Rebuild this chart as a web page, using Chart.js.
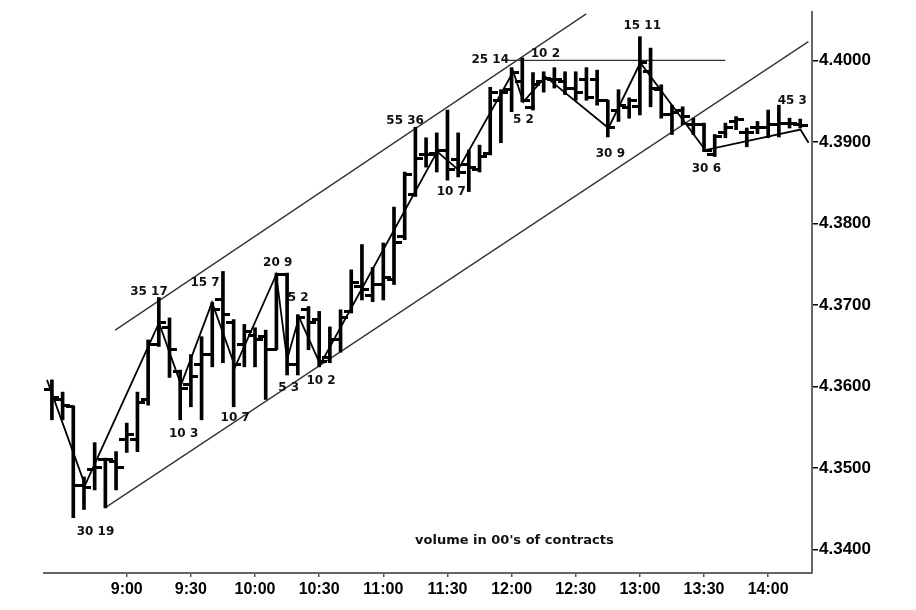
<!DOCTYPE html>
<html><head><meta charset="utf-8">
<script src="https://cdn.jsdelivr.net/npm/chart.js@4.4.1/dist/chart.umd.min.js"></script>
<style>html,body{margin:0;padding:0;background:#fff;}canvas{display:block;}</style>
</head><body>
<canvas id="c" width="916" height="610"></canvas>
<script>
// 5-minute bars
const barTimes = ["8:25","8:30","8:35","8:40","8:45","8:50","8:55",
  "9:00","9:05","9:10","9:15","9:20","9:25","9:30","9:35","9:40","9:45","9:50","9:55",
  "10:00","10:05","10:10","10:15","10:20","10:25","10:30","10:35","10:40","10:45","10:50","10:55",
  "11:00","11:05","11:10","11:15","11:20","11:25","11:30","11:35","11:40","11:45","11:50","11:55",
  "12:00","12:05","12:10","12:15","12:20","12:25","12:30","12:35","12:40","12:45","12:50","12:55",
  "13:00","13:05","13:10","13:15","13:20","13:25","13:30","13:35","13:40","13:45","13:50","13:55",
  "14:00","14:05","14:10","14:15"];
const opens = [4.3596,4.3584,4.3575,4.3479,4.3498,4.3510,4.3508,
  4.3535,4.3535,4.3584,4.3651,4.3672,4.3618,4.3602,4.3627,4.3639,4.3706,4.3679,4.3651,
  4.3663,4.3661,4.3645,4.3737,4.3627,4.3694,4.3682,4.3635,4.3657,4.3692,4.3722,4.3712,
  4.3725,4.3731,4.3784,4.3835,4.3884,4.3886,4.3890,4.3878,4.3872,4.3866,4.3886,4.3951,
  4.3964,4.3974,4.3942,4.3974,4.3976,4.3974,4.3966,4.3976,4.3976,4.3951,4.3939,4.3942,
  4.3943,4.3986,4.3964,4.3933,4.3939,4.3921,4.3921,4.3884,4.3911,4.3925,4.3911,4.3917,
  4.3917,4.3921,4.3923,4.3921];
const highs = [4.3608,4.3593,4.3576,4.3489,4.3531,4.3512,4.3520,
  4.3555,4.3593,4.3657,4.3709,4.3684,4.3620,4.3639,4.3661,4.3703,4.3741,4.3682,4.3676,
  4.3672,4.3669,4.3739,4.3739,4.3688,4.3698,4.3692,4.3673,4.3694,4.3743,4.3774,4.3746,
  4.3776,4.3820,4.3863,4.3918,4.3905,4.3911,4.3939,4.3911,4.3890,4.3896,4.3967,4.3964,
  4.3991,4.4003,4.3985,4.3986,4.3991,4.3986,4.3986,4.3991,4.3988,4.3951,4.3964,4.3954,
  4.4029,4.4015,4.3970,4.3945,4.3943,4.3929,4.3923,4.3909,4.3923,4.3931,4.3917,4.3925,
  4.3939,4.3945,4.3929,4.3928];
const lows = [4.3559,4.3559,4.3439,4.3449,4.3473,4.3451,4.3473,
  4.3519,4.3520,4.3577,4.3649,4.3611,4.3559,4.3575,4.3559,4.3624,4.3629,4.3575,4.3624,
  4.3624,4.3584,4.3645,4.3614,4.3614,4.3645,4.3624,4.3629,4.3642,4.3690,4.3706,4.3704,
  4.3706,4.3725,4.3780,4.3833,4.3869,4.3863,4.3853,4.3857,4.3839,4.3863,4.3884,4.3899,
  4.3937,4.3949,4.3939,4.3961,4.3966,4.3958,4.3951,4.3951,4.3945,4.3906,4.3925,4.3929,
  4.3933,4.3943,4.3929,4.3909,4.3921,4.3909,4.3888,4.3882,4.3905,4.3915,4.3894,4.3910,
  4.3905,4.3906,4.3917,4.3917];
const closes = [4.3586,4.3576,4.3479,4.3476,4.3501,4.3510,4.3501,
  4.3541,4.3580,4.3651,4.3678,4.3645,4.3598,4.3612,4.3639,4.3694,4.3688,4.3627,4.3667,
  4.3657,4.3645,4.3737,4.3627,4.3684,4.3679,4.3630,4.3657,4.3684,4.3728,4.3719,4.3725,
  4.3733,4.3776,4.3860,4.3880,4.3884,4.3890,4.3866,4.3863,4.3868,4.3882,4.3961,4.3961,
  4.3985,4.3951,4.3970,4.3978,4.3976,4.3966,4.3960,4.3954,4.3951,4.3917,4.3945,4.3951,
  4.3997,4.3966,4.3933,4.3936,4.3931,4.3921,4.3890,4.3906,4.3918,4.3927,4.3911,4.3918,
  4.3921,4.3923,4.3922,4.3920];

// swing (zigzag) line
const zigTimes = ["8:22.7","8:40.5","9:15.1","9:25.4","9:39.9","9:50.7","10:09.9","10:15","10:20.6","10:30.5",
  "11:25.2","11:35","12:00.8","12:05.5","12:15.8","12:45.3","13:00.2","13:30.6","14:15.1","14:18.9"];
const zigPrices = [4.3608,4.3479,4.3678,4.3602,4.3703,4.3624,4.3737,4.3633,4.3685,4.3627,
  4.3888,4.3866,4.3986,4.3949,4.3980,4.3917,4.3997,4.3890,4.3915,4.3899];

// channel and resistance lines
const upperTimes = ["8:54.6","12:34.9"], upperPrices = [4.3669,4.4057];
const lowerTimes = ["8:49.8","14:18.8"], lowerPrices = [4.3451,4.4023];
const resTimes = ["11:58.5","13:40"], resPrices = [4.4000,4.4000];

// volume annotations
const annoTexts = ["30 19","35 17","15 7","20 9","5 2","10 3","10 7","5 3","10 2","55 36","10 7","25 14","10 2","5 2","30 9","15 11","30 6","45 3"];
const annoTimes = ["8:45.4","9:10.4","9:36.6","10:10.6","10:20.2","9:26.6","9:50.7","10:15.7","10:30.9","11:10.2","11:31.8","11:50","12:15.8","12:05.5","12:46.2","13:01.1","13:31.1","14:11.3"];
const annoPrices = [4.3422,4.3716,4.3727,4.3751,4.3708,4.3542,4.3561,4.3598,4.3607,4.3926,4.3839,4.4001,4.4008,4.3927,4.3885,4.4042,4.3867,4.3950];
const noteText = "volume in 00's of contracts", noteTime = "12:01.3", notePrice = 4.3411;

const xTickTimes = ["9:00","9:30","10:00","10:30","11:00","11:30","12:00","12:30","13:00","13:30","14:00"];
const yTickValues = [4.3400,4.3500,4.3600,4.3700,4.3800,4.3900,4.4000];
const xRange = ["8:21.3","14:20.5"], yRange = [4.33711,4.40593];

function mins(s){const p=s.split(':');return (+p[0])*60+parseFloat(p[1]);}
function fmt(v){const h=Math.floor(v/60+1e-9);const m=Math.round(v-h*60);return h+':'+String(m).padStart(2,'0');}
function tickImg(left){const len=6,th=3;const c=document.createElement('canvas');c.width=2*len+3;c.height=th;const g=c.getContext('2d');g.fillStyle='#000';if(left)g.fillRect(0,0,len+2,th);else g.fillRect(len+1,0,len+2,th);return c;}
const pts=(ts,ps)=>ts.map((t,i)=>({x:mins(t),y:ps[i]}));

const annoPlugin={id:'anno',afterDatasetsDraw(chart){
  const {ctx,scales:{x,y}}=chart;ctx.save();ctx.fillStyle='#111';ctx.textAlign='center';ctx.textBaseline='middle';
  ctx.font='bold 12px "DejaVu Sans"';
  annoTexts.forEach((t,i)=>ctx.fillText(t,x.getPixelForValue(mins(annoTimes[i])),y.getPixelForValue(annoPrices[i])));
  ctx.font='bold 13px "DejaVu Sans"';
  ctx.fillText(noteText,x.getPixelForValue(mins(noteTime)),y.getPixelForValue(notePrice));
  ctx.restore();}};

const lineDs=(d,w,c)=>({type:'line',data:d,borderColor:c,borderWidth:w,pointRadius:0,tension:0,fill:false});

new Chart(document.getElementById('c'),{
  type:'bar',
  data:{datasets:[
    {type:'bar',data:barTimes.map((t,i)=>({x:mins(t),y:[lows[i],highs[i]]})),backgroundColor:'#000',barThickness:3,borderWidth:0,borderSkipped:false},
    {type:'line',data:pts(barTimes,opens),showLine:false,pointStyle:tickImg(true),pointRadius:3},
    {type:'line',data:pts(barTimes,closes),showLine:false,pointStyle:tickImg(false),pointRadius:3},
    lineDs(pts(zigTimes,zigPrices),1.8,'#000'),
    lineDs(pts(upperTimes,upperPrices),1.3,'#333'),
    lineDs(pts(lowerTimes,lowerPrices),1.3,'#333'),
    lineDs(pts(resTimes,resPrices),1.3,'#333')
  ]},
  options:{
    responsive:false,animation:false,
    layout:{padding:{left:44,top:12,right:0,bottom:0}},
    plugins:{legend:{display:false},tooltip:{enabled:false}},
    scales:{
      x:{type:'linear',min:mins(xRange[0]),max:mins(xRange[1]),offset:false,
        afterBuildTicks(s){s.ticks=xTickTimes.map(t=>({value:mins(t)}));},
        afterFit(s){s.height=37;},
        grid:{drawOnChartArea:false,offset:false,tickLength:4,color:'#555',lineWidth:1.5},
        border:{color:'#666',width:2},
        ticks:{callback:v=>fmt(v),color:'#000',padding:3,maxRotation:0,autoSkip:false,font:{family:'"Liberation Sans", Arial',size:16,weight:'bold'}}},
      y:{type:'linear',position:'right',min:yRange[0],max:yRange[1],
        afterBuildTicks(s){s.ticks=yTickValues.map(v=>({value:v}));},
        afterFit(s){s.width=104;},
        grid:{drawOnChartArea:false,tickLength:6,color:'#000',lineWidth:1.5},
        border:{color:'#666',width:2},
        ticks:{callback:v=>v.toFixed(4),color:'#000',padding:1,autoSkip:false,font:{family:'"Liberation Sans", Arial',size:17,weight:'bold'}}}
    }
  },
  plugins:[annoPlugin]
});
</script>
</body></html>
